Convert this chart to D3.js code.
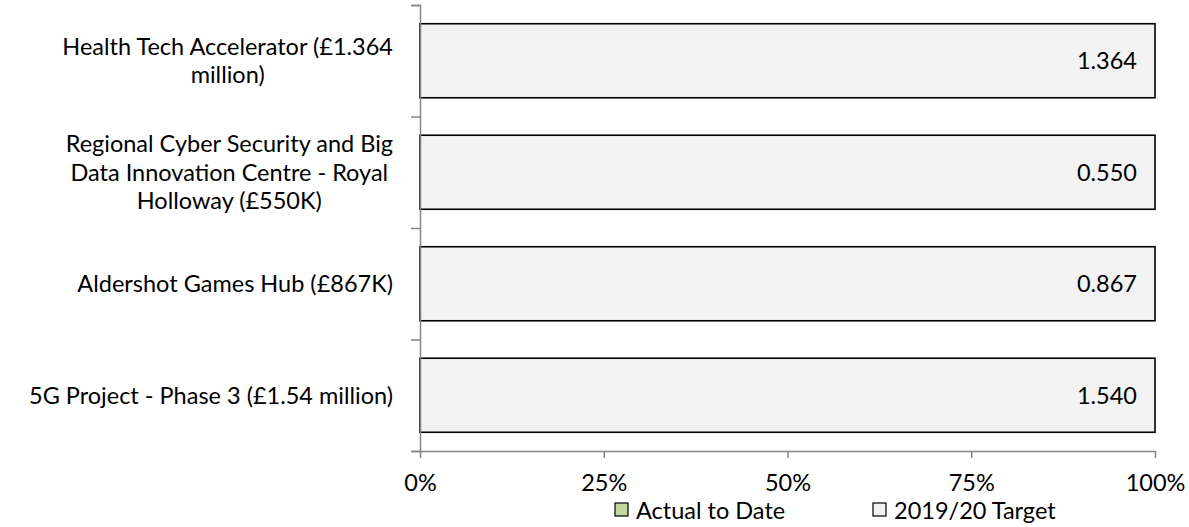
<!DOCTYPE html>
<html>
<head>
<meta charset="utf-8">
<script src="https://cdn.jsdelivr.net/npm/d3@7"></script>
<style>
    body { margin: 0; background: #fff; }
    svg text { font-family: Lato, "Open Sans", sans-serif; fill: #000; }
</style>
</head>
<body>
<div id="chart"></div>
<script>
// chart data (top to bottom)
const projects = [
    ["Health Tech Accelerator (£1.364", "million)"],
    ["Regional Cyber Security and Big", "Data Innovation Centre - Royal", "Holloway (£550K)"],
    ["Aldershot Games Hub (£867K)"],
    ["5G Project - Phase 3 (£1.54 million)"]
];
const actualToDate = [0, 0, 0, 0];
const target = [1.364, 0.550, 0.867, 1.540];
const xTicks = [0, 0.25, 0.5, 0.75, 1];
const seriesNames = ["Actual to Date", "2019/20 Target"];
const seriesColors = ["#c3d69b", "#f2f2f2"];

const width = 1189, height = 527;
const margin = { top: 5, right: 34, bottom: 76, left: 420 };
const fontSize = "23.5px";

const svg = d3.select("#chart").append("svg")
    .attr("width", width)
    .attr("height", height);

const keys = projects.map((d, i) => "p" + i);
const rows = keys.map((k, i) => ({ key: k, actual: actualToDate[i], target: target[i] }));

// scales
const x = d3.scaleLinear()
    .domain([0, 1])
    .range([margin.left, width - margin.right]);

const y = d3.scaleBand()
    .domain(keys)
    .range([margin.top, height - margin.bottom])
    .paddingInner(0.336)
    .paddingOuter(0.168);

// 100% stacked
const stack = d3.stack()
    .keys(["actual", "target"])
    .offset(d3.stackOffsetExpand);
const layers = stack(rows);

const axisColor = "#868686";

// bars
svg.append("g")
    .selectAll("g")
    .data(layers)
    .join("g")
    .attr("fill", (d, i) => seriesColors[i])
    .selectAll("rect")
    .data(d => d)
    .join("rect")
    .attr("x", d => x(d[0]))
    .attr("y", d => y(d.data.key))
    .attr("width", d => x(d[1]) - x(d[0]))
    .attr("height", y.bandwidth())
    .attr("stroke", "#000")
    .attr("stroke-width", 1.6)
    .attr("display", d => (d[1] - d[0]) > 0 ? null : "none");

// value labels
svg.append("g")
    .selectAll("text")
    .data(layers[1])
    .join("text")
    .attr("x", d => x(d[1]) - 18)
    .attr("y", d => y(d.data.key) + y.bandwidth() / 2)
    .attr("dy", "0.36em")
    .attr("text-anchor", "end")
    .style("font-size", fontSize)
    .text(d => d.data.target.toFixed(3));

// y axis (category boundaries)
const yLin = d3.scaleLinear().domain([0, keys.length]).range([height - margin.bottom, margin.top]);
svg.append("g")
    .attr("transform", "translate(" + margin.left + ",0)")
    .call(d3.axisLeft(yLin).ticks(keys.length).tickSize(9).tickFormat(""))
    .call(g => g.selectAll("line, path").attr("stroke", axisColor).attr("stroke-width", 1.5));

// x axis
svg.append("g")
    .attr("transform", "translate(0," + (height - margin.bottom) + ")")
    .call(d3.axisBottom(x).tickValues(xTicks).tickSize(7).tickSizeOuter(0).tickFormat(d3.format(".0%")))
    .call(g => g.selectAll("line, path").attr("stroke", axisColor).attr("stroke-width", 1.5))
    .call(g => g.selectAll("text")
        .attr("y", 40)
        .attr("dy", 0)
        .style("font-size", fontSize)
        .style("font-family", "Lato, sans-serif")
        .attr("fill", "#000"));

// category labels, wrapped lines centred inside a right-aligned block
const labelRight = 393;
const lineH = 28.5;
const labels = svg.append("g")
    .selectAll("text")
    .data(projects)
    .join("text")
    .attr("text-anchor", "middle")
    .style("font-size", fontSize);

labels.each(function(lines, i) {
    const t = d3.select(this);
    const cy = y(keys[i]) + y.bandwidth() / 2;
    const y0 = cy - (lines.length - 1) * lineH / 2;
    lines.forEach((ln, j) => {
        t.append("tspan")
            .attr("y", y0 + j * lineH)
            .attr("dy", "0.36em")
            .text(ln);
    });
    let maxW = 0;
    t.selectAll("tspan").each(function() {
        maxW = Math.max(maxW, this.getComputedTextLength());
    });
    t.selectAll("tspan").attr("x", labelRight - maxW / 2);
});

// legend
const legendX = [615, 873];
const legend = svg.append("g")
    .selectAll("g")
    .data(seriesNames)
    .join("g")
    .attr("transform", (d, i) => "translate(" + legendX[i] + ",503)");

legend.append("rect")
    .attr("width", 13)
    .attr("height", 13)
    .attr("fill", (d, i) => seriesColors[i])
    .attr("stroke", "#000")
    .attr("stroke-width", 1.2);

legend.append("text")
    .attr("x", 21)
    .attr("y", 16)
    .style("font-size", fontSize)
    .text(d => d);
</script>
</body>
</html>
